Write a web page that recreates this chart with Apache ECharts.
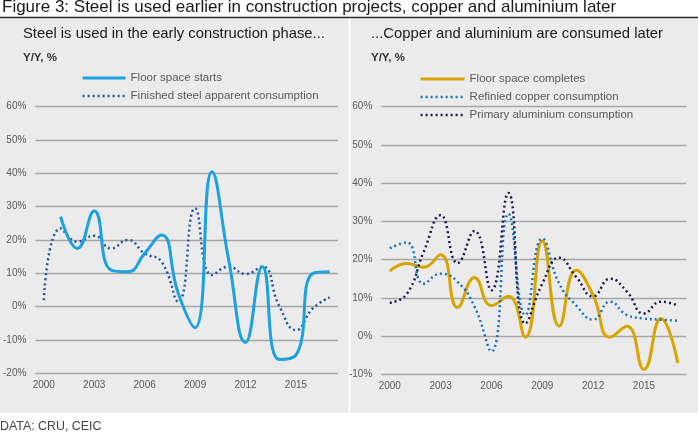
<!DOCTYPE html>
<html>
<head>
<meta charset="utf-8">
<script src="https://cdn.jsdelivr.net/npm/echarts@6/dist/echarts.min.js"></script>
<style>
html,body{margin:0;padding:0;background:#fff;}
#c{width:698px;height:436px;}
</style>
</head>
<body>
<div id="c"></div>
<script>
var years = ['2000','2001','2002','2003','2004','2005','2006','2007','2008','2009','2010','2011','2012','2013','2014','2015','2016','2017'];
var floorStarts = [null, 27, 17.5, 28.7, 11, 10.5, 16, 21.5, 4, -6.3, 40.5, 14, -10.7, 12, -15.8, -14.5, 10, 10.5];
var steelCons = [2, 23.5, 19.5, 21.3, 17.5, 20, 16, 13.5, 1.5, 29.5, 9.5, 12, 9.8, 12, 0.3, -7, -0.5, 2.8];
var floorCompletes = [17, 19, 18, 21.3, 7.5, 15.3, 8, 10.4, -0.3, 24.9, 2.6, 17.2, 10.7, -0.3, 2.6, -8.7, 4.6, -7];
var copperCons = [23, 24.5, 13.7, 16.3, 14.2, 7.7, -4, 32, 5.5, 25.5, 13.7, 8, 4.3, 9, 5.5, 4.6, 4.3, 4];
var aluCons = [8.7, 11, 22, 31.6, 19.1, 27.5, 12, 37.4, 3.3, 13.7, 20.5, 15.5, 10.4, 15, 11.6, 5.9, 9, 8];

var FONT = 'Liberation Sans, Arial, sans-serif';
var chart = echarts.init(document.getElementById('c'), null, {renderer: 'canvas'});

function xAxis(gi) {
  return {
    type: 'category', gridIndex: gi, data: years, boundaryGap: true,
    axisLine: {show: false}, axisTick: {show: false},
    axisLabel: {interval: 2, color: '#595959', fontSize: 10, fontFamily: FONT, margin: 7}
  };
}
function yAxis(gi, min) {
  return {
    type: 'value', gridIndex: gi, min: min, max: 60, interval: 10,
    axisLine: {show: false}, axisTick: {show: false},
    axisLabel: {formatter: '{value}%', color: '#595959', fontSize: 10, fontFamily: FONT, margin: 9},
    splitLine: {lineStyle: {color: '#A6A6A6', width: 1.3}}
  };
}
var dot = [2, 3];
var hiddenSym = {color: 'rgba(0,0,0,0)', borderColor: 'rgba(0,0,0,0)', borderWidth: 0};

chart.setOption({
  animation: false,
  textStyle: {fontFamily: FONT},
  graphic: [
    {type: 'rect', shape: {x: 0, y: 19, width: 348.5, height: 394}, style: {fill: '#EBEBEB'}, z: -10},
    {type: 'rect', shape: {x: 350.5, y: 19, width: 347.5, height: 394}, style: {fill: '#EBEBEB'}, z: -10},
    {type: 'line', shape: {x1: 0, y1: 17.5, x2: 698, y2: 17.5}, style: {stroke: '#222', lineWidth: 1.3}},
    {type: 'text', left: 2, top: -1, style: {text: 'Figure 3: Steel is used earlier in construction projects, copper and aluminium later', font: '17px ' + FONT, fill: '#1a1a1a'}},
    {type: 'text', left: 23, top: 26, style: {text: 'Steel is used in the early construction phase...', font: '14.8px ' + FONT, fill: '#1a1a1a'}},
    {type: 'text', left: 23, top: 52, style: {text: 'Y/Y, %', font: 'bold 11.5px ' + FONT, fill: '#333'}},
    {type: 'text', left: 371, top: 26, style: {text: '...Copper and aluminium are consumed later', font: '14.8px ' + FONT, fill: '#1a1a1a'}},
    {type: 'text', left: 371, top: 52, style: {text: 'Y/Y, %', font: 'bold 11.5px ' + FONT, fill: '#333'}},
    {type: 'text', left: 0, top: 421, style: {text: 'DATA: CRU, CEIC', font: '12.4px ' + FONT, fill: '#444'}}
  ],
  legend: [
    {
      left: 81, top: 72, padding: 0, orient: 'vertical', itemWidth: 43, itemHeight: 14, itemGap: 6,
      itemStyle: hiddenSym,
      textStyle: {color: '#595959', fontSize: 11.5, fontFamily: FONT},
      data: [
        {name: 'Floor space starts', lineStyle: {width: 3.2}},
        {name: 'Finished steel apparent consumption', lineStyle: {width: 2.5}}
      ]
    },
    {
      left: 419, top: 73, padding: 0, orient: 'vertical', itemWidth: 44, itemHeight: 14, itemGap: 6,
      itemStyle: hiddenSym,
      textStyle: {color: '#595959', fontSize: 11.5, fontFamily: FONT},
      data: [
        {name: 'Floor space completes', lineStyle: {width: 3.2}},
        {name: 'Refinied copper consumption', lineStyle: {width: 2.5}},
        {name: 'Primary aluminium consumption', lineStyle: {width: 2.5}}
      ]
    }
  ],
  grid: [
    {left: 34, top: 106.7, width: 304, height: 266.7},
    {left: 381.3, top: 106.7, width: 305, height: 267.6}
  ],
  xAxis: [xAxis(0), xAxis(1)],
  yAxis: [yAxis(0, -20), yAxis(1, -10)],
  series: [
    {name: 'Floor space starts', type: 'line', xAxisIndex: 0, yAxisIndex: 0, data: floorStarts,
     smooth: 0.5, symbol: 'none', lineStyle: {color: '#1BA1DD', width: 3}, itemStyle: {color: '#1BA1DD'}, z: 3},
    {name: 'Finished steel apparent consumption', type: 'line', xAxisIndex: 0, yAxisIndex: 0, data: steelCons,
     smooth: 0.5, symbol: 'none', lineStyle: {color: '#1F56A3', width: 2.5, type: dot}, itemStyle: {color: '#1F56A3'}, z: 2},
    {name: 'Floor space completes', type: 'line', xAxisIndex: 1, yAxisIndex: 1, data: floorCompletes,
     smooth: 0.5, symbol: 'none', lineStyle: {color: '#D9A300', width: 3}, itemStyle: {color: '#D9A300'}, z: 2},
    {name: 'Refinied copper consumption', type: 'line', xAxisIndex: 1, yAxisIndex: 1, data: copperCons,
     smooth: 0.5, symbol: 'none', lineStyle: {color: '#1872C2', width: 2.5, type: dot}, itemStyle: {color: '#1872C2'}, z: 3},
    {name: 'Primary aluminium consumption', type: 'line', xAxisIndex: 1, yAxisIndex: 1, data: aluCons,
     smooth: 0.5, symbol: 'none', lineStyle: {color: '#1C1B4B', width: 2.5, type: dot}, itemStyle: {color: '#1C1B4B'}, z: 3}
  ]
});
</script>
</body>
</html>
